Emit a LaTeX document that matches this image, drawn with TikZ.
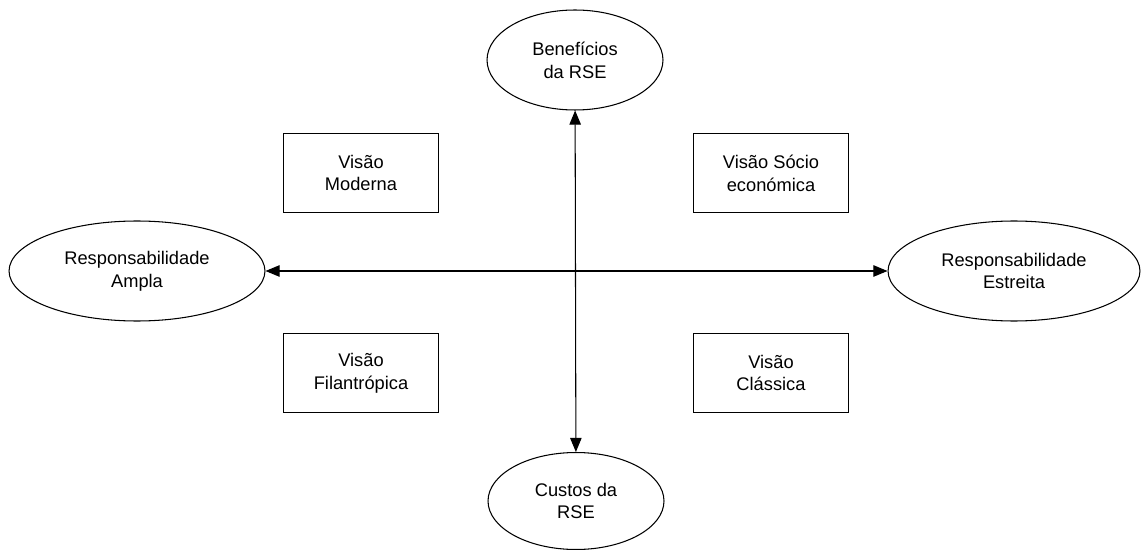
\documentclass[tikz,border=0pt]{standalone}
\usepackage{fontspec}
\setmainfont{Liberation Sans}
\usetikzlibrary{shapes.geometric,arrows.meta}
\tikzset{
  elip/.style={ellipse, draw, line width=0.6pt, inner sep=0pt, align=center, font=\fontsize{10.4}{13}\selectfont},
  visao/.style={rectangle, draw, line width=1.1pt, inner sep=0pt, minimum width=3.1cm, minimum height=1.58cm, align=center, font=\fontsize{10.4}{13}\selectfont},
  eixo/.style={line width=0.6pt, {Triangle[length=8pt,width=6.5pt]}-{Triangle[length=8pt,width=6.5pt]}}
}
\begin{document}
\begin{tikzpicture}[x=0.02cm, y=-0.02cm]
\useasboundingbox (0,0) rectangle (1148,550);
\node[elip, minimum width=3.52cm, minimum height=2cm] (B) at (575,60) {Benefícios\\da RSE};
\node[elip, minimum width=3.52cm, minimum height=1.94cm] (C) at (576,501) {Custos da\\RSE};
\node[elip, minimum width=5.12cm, minimum height=2cm] (A) at (137,271) {Responsabilidade\\Ampla};
\node[elip, minimum width=5.04cm, minimum height=2cm] (E) at (1014,271) {Responsabilidade\\Estreita};

\node[visao] (M) at (361,173) {Visão\\Moderna};
\node[visao] (S) at (771,173) {Visão Sócio\\económica};
\node[visao] (F) at (361,373) {Visão\\Filantrópica};
\node[visao] (K) at (771,373) {Visão\\Clássica};

\draw[eixo] (B) -- (C);
\draw[eixo] (A) -- (E);
\end{tikzpicture}
\end{document}
